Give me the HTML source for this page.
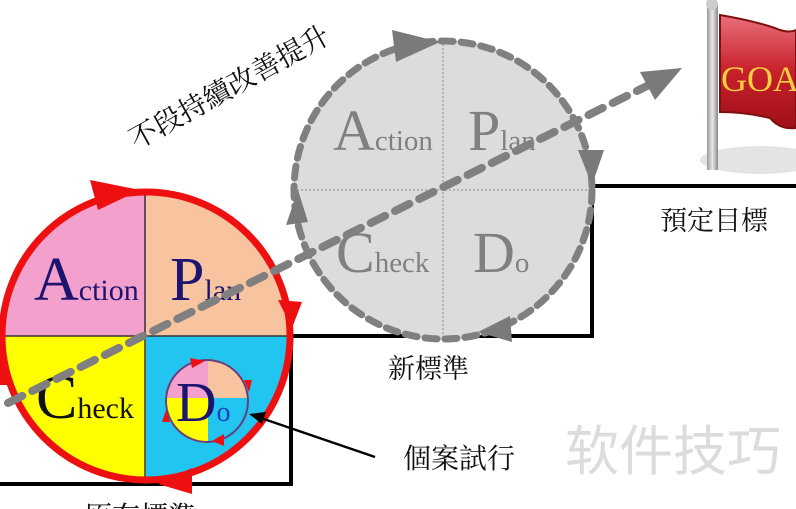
<!DOCTYPE html>
<html><head><meta charset="utf-8"><style>
html,body{margin:0;padding:0;background:#fff;width:796px;height:509px;overflow:hidden}
svg{display:block}
.serif{font-family:"Liberation Serif",serif}
.cjk{font-family:"Liberation Serif","Noto Serif CJK SC","Noto Sans CJK TC",serif}
</style></head><body>
<svg width="796" height="509" viewBox="0 0 796 509" xmlns="http://www.w3.org/2000/svg">
<defs>
<linearGradient id="fl" x1="0" y1="0" x2="0" y2="1">
<stop offset="0" stop-color="#e8707a"/><stop offset="0.5" stop-color="#c8202a"/><stop offset="1" stop-color="#a01018"/>
</linearGradient>
<linearGradient id="pole" x1="0" y1="0" x2="1" y2="0">
<stop offset="0" stop-color="#999"/><stop offset="0.5" stop-color="#e8e8e8"/><stop offset="1" stop-color="#888"/>
</linearGradient>
<clipPath id="c1"><circle cx="146" cy="336" r="146"/></clipPath>
<clipPath id="c2"><circle cx="207" cy="401" r="42"/></clipPath>
</defs>

<!-- Flag -->
<ellipse cx="760" cy="160" rx="60" ry="14" fill="#e4e4e4"/>
<path d="M720,15 Q760,22 780,30 Q790,33 796,30 L796,128 Q780,130 770,118 Q745,112 720,112 Z" fill="url(#fl)" stroke="#801010" stroke-width="2"/>
<text x="721" y="91" class="serif" font-size="36" fill="#f6d040">GOAL</text>
<rect x="707" y="4" width="11" height="166" fill="url(#pole)"/>
<circle cx="712" cy="4" r="6" fill="#ccc"/>

<!-- staircase -->
<polyline points="0,484 291,484 291,336 592,336 592,186 796,186" fill="none" stroke="#000" stroke-width="4"/>

<!-- gray circle -->
<circle cx="443" cy="190" r="150" fill="#dcdcdc"/>
<line x1="443" y1="40" x2="443" y2="340" stroke="#888" stroke-width="1" stroke-dasharray="2,2"/>
<line x1="293" y1="190" x2="593" y2="190" stroke="#888" stroke-width="1" stroke-dasharray="2,2"/>
<circle cx="443" cy="190" r="149" fill="none" stroke="#808080" stroke-width="7" stroke-dasharray="12,8" stroke-linecap="round"/>
<g fill="#7a7a7a">
<polygon points="392,30 440,42 396,62"/>
<polygon points="578,150 604,150 592,185"/>
<polygon points="478,332 510,316 512,342"/>
<polygon points="298,190 286,225 308,222"/>
</g>
<g class="serif" fill="#808080">
<text x="333" y="150" font-size="58">A<tspan font-size="29">ction</tspan></text>
<text x="468" y="150" font-size="58">P<tspan font-size="29">lan</tspan></text>
<text x="336" y="272" font-size="58">C<tspan font-size="29">heck</tspan></text>
<text x="473" y="272" font-size="58">D<tspan font-size="29">o</tspan></text>
</g>

<!-- left circle -->
<g clip-path="url(#c1)">
<rect x="0" y="190" width="146" height="146" fill="#f4a0cc"/>
<rect x="146" y="190" width="146" height="146" fill="#f8c4a0"/>
<rect x="0" y="336" width="146" height="150" fill="#ffff00"/>
<rect x="146" y="336" width="146" height="150" fill="#22c4f0"/>
</g>
<line x1="145" y1="190" x2="145" y2="484" stroke="#333" stroke-width="1.5"/>
<line x1="0" y1="336" x2="292" y2="336" stroke="#333" stroke-width="1.5"/>
<circle cx="146" cy="336" r="144" fill="none" stroke="#ee1010" stroke-width="7"/>
<g fill="#ee1010">
<polygon points="90,180 140,190 98,210"/>
<polygon points="278,300 302,302 292,328"/>
<polygon points="158,484 192,468 192,494"/>
<polygon points="2,345 -6,385 10,385"/>
</g>
<g class="serif" fill="#1c1470">
<text x="34" y="300" font-size="62">A<tspan font-size="30">ction</tspan></text>
<text x="170" y="300" font-size="62">P<tspan font-size="30">lan</tspan></text>
<text x="36" y="418" font-size="62" fill="#111">C<tspan font-size="30">heck</tspan></text>
</g>

<!-- small circle -->
<g clip-path="url(#c2)">
<rect x="160" y="355" width="48" height="43" fill="#f4a0cc"/>
<rect x="208" y="355" width="48" height="43" fill="#f8c4a0"/>
<rect x="160" y="398" width="48" height="48" fill="#ffff00"/>
<rect x="208" y="398" width="48" height="48" fill="#22c4f0"/>
</g>
<circle cx="207" cy="401" r="41" fill="none" stroke="#604080" stroke-width="2"/>
<g fill="#ee1010">
<polygon points="190,358 205,361 192,368"/>
<polygon points="244,380 252,380 249,392"/>
<polygon points="212,441 224,434 224,446"/>
<polygon points="166,410 162,422 170,422"/>
</g>
<text x="176" y="421" class="serif" font-size="56" fill="#1c1470">D<tspan font-size="28" fill="#1840c0">o</tspan></text>

<!-- dashed progress arrow -->
<line x1="8" y1="403" x2="655" y2="82" stroke="#808080" stroke-width="8" stroke-dasharray="16,11" stroke-linecap="round"/>
<polygon points="682,68 640,72 655,100" fill="#7a7a7a"/>

<!-- pointer -->
<line x1="375" y1="457" x2="258" y2="417" stroke="#000" stroke-width="2.5"/>
<polygon points="249,414 266,412 262,424" fill="#000"/>

<!-- labels -->
<text class="cjk" font-size="28" fill="#111" transform="translate(136,150) rotate(-29)">不段持續改善提升</text>
<text x="660" y="230" class="cjk" font-size="27" fill="#111">預定目標</text>
<text x="388" y="378" class="cjk" font-size="27" fill="#111">新標準</text>
<text x="403" y="468" class="cjk" font-size="28" fill="#111">個案試行</text>
<text x="84" y="526" class="cjk" font-size="28" fill="#111">原有標準</text>
<text x="565" y="470" font-family="'Liberation Sans','Noto Sans CJK SC',sans-serif" font-size="54" fill="#dcdcdc">软件技巧</text>
</svg>
</body></html>
